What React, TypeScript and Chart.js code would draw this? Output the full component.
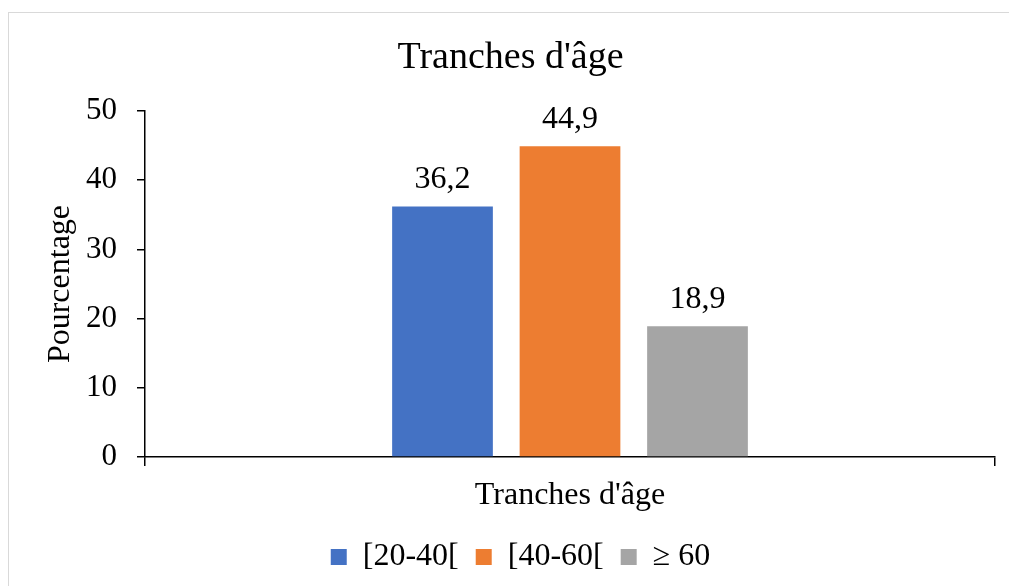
import React, { useEffect, useRef } from "react";
import { Chart, registerables } from "chart.js";

Chart.register(...registerables);

const categories = ["Tranches d'âge"];
const seriesNames = ["[20-40[", "[40-60[", "≥ 60"];
const seriesValues = [36.2, 44.9, 18.9];
const seriesColors = ["#4472C4", "#ED7D31", "#A5A5A5"];
const yTicks = { min: 0, max: 50, step: 10 };

const FONT = "'Liberation Serif', 'Times New Roman', serif";

const dataLabelPlugin = {
  id: "dataLabels",
  afterDatasetsDraw(chart: any) {
    const ctx = chart.ctx;
    ctx.save();
    ctx.font = `32px ${FONT}`;
    ctx.fillStyle = "#000";
    ctx.textAlign = "center";
    ctx.textBaseline = "alphabetic";
    chart.data.datasets.forEach((ds: any, i: number) => {
      const meta = chart.getDatasetMeta(i);
      meta.data.forEach((bar: any, j: number) => {
        const v = ds.data[j];
        const txt = String(v).replace(".", ",");
        ctx.fillText(txt, bar.x, bar.y - 18);
      });
    });
    ctx.restore();
  },
};

const legendShiftPlugin = {
  id: "legendShift",
  afterLayout(chart: any) {
    if (chart.legend) {
      chart.legend.left += 10;
      chart.legend.right += 10;
    }
  },
};

export default function App() {
  const ref = useRef<HTMLCanvasElement | null>(null);
  useEffect(() => {
    if (!ref.current) return;
    const chart = new Chart(ref.current, {
      type: "bar",
      data: {
        labels: categories,
        datasets: seriesNames.map((name, i) => ({
          label: name,
          data: [seriesValues[i]],
          backgroundColor: seriesColors[i],
          categoryPercentage: 0.45,
          barPercentage: 0.79,
        })),
      },
      options: {
        animation: false,
        responsive: false,
        devicePixelRatio: 1,
        layout: { padding: { left: 26, right: 14, top: 0, bottom: 3 } },
        plugins: {
          title: {
            display: true,
            text: "Tranches d'âge",
            color: "#000",
            font: { family: FONT, size: 38, weight: "normal", lineHeight: 1.2 },
            padding: { top: 35, bottom: 30.4 },
          },
          legend: {
            position: "bottom",
            labels: {
              color: "#000",
              font: { family: FONT, size: 32, lineHeight: 1.2 },
              boxWidth: 16,
              boxHeight: 16,
              padding: 17,
            },
          },
          tooltip: { enabled: false },
        },
        scales: {
          x: {
            grid: { display: true, drawOnChartArea: false, drawTicks: true, tickLength: 9, color: "#000", lineWidth: 1.5 },
            border: { display: true, color: "#000", width: 1.5 },
            ticks: { display: false },
            title: {
              display: true,
              text: "Tranches d'âge",
              color: "#000",
              font: { family: FONT, size: 32, lineHeight: 1.2 },
              padding: { top: 10.8, bottom: 8.8 },
            },
          },
          y: {
            min: yTicks.min,
            max: yTicks.max,
            grid: { display: true, drawOnChartArea: false, drawTicks: true, tickLength: 8, color: "#000", lineWidth: 1.5 },
            border: { display: true, color: "#000", width: 1.5 },
            ticks: {
              stepSize: yTicks.step,
              color: "#000",
              padding: 20,
              font: { family: FONT, size: 31 },
            },
            title: {
              display: true,
              text: "Pourcentage",
              color: "#000",
              font: { family: FONT, size: 32, lineHeight: 1.2 },
              padding: { top: 15.8, bottom: -14.2 },
            },
          },
        },
      },
      plugins: [dataLabelPlugin, legendShiftPlugin],
    });
    return () => chart.destroy();
  }, []);

  return (
    <div>
      <div
        style={{
          position: "fixed",
          left: 8,
          top: 12,
          width: 1100,
          height: 700,
          border: "1px solid #d9d9d9",
          background: "#fff",
        }}
      />
      <canvas
        ref={ref}
        width={1009}
        height={586}
        style={{ position: "fixed", left: 0, top: 0, width: 1009, height: 586 }}
      />
    </div>
  );
}
